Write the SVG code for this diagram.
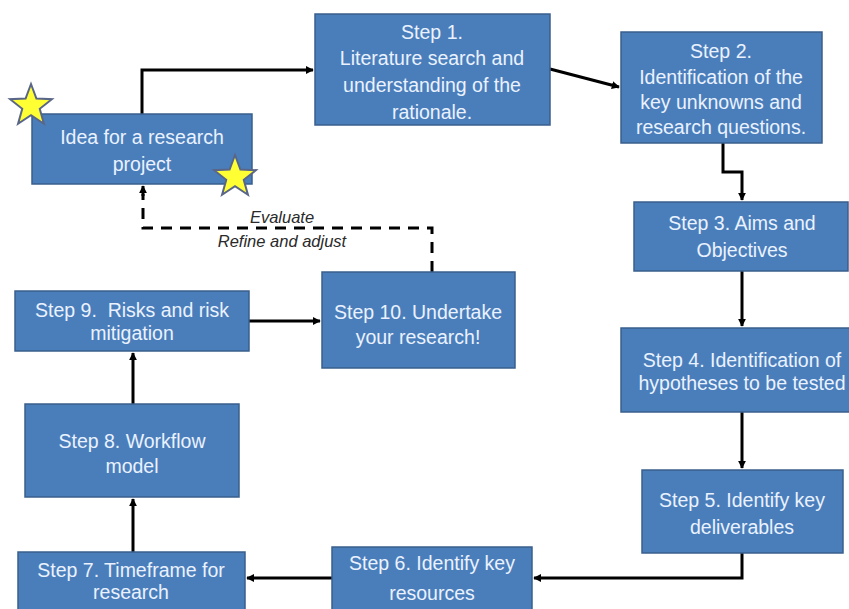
<svg xmlns="http://www.w3.org/2000/svg" width="849" height="609" viewBox="0 0 849 609">
<style>
.box{fill:#4a7ebb;stroke:#3a5f8c;stroke-width:1.5}
.t{font-family:"Liberation Sans",Arial,sans-serif;font-size:19.5px;fill:#eaf2ff;text-anchor:middle}
.lbl{font-family:"Liberation Sans",Arial,sans-serif;font-size:16.5px;font-style:italic;fill:#2a2a2a;text-anchor:middle}
.c{fill:none;stroke:#000;stroke-width:3}
.d{fill:none;stroke:#000;stroke-width:3;stroke-dasharray:11,8}
.star{fill:#ffff33;stroke:#5a6688;stroke-width:2}
</style>
<defs>
<marker id="ah" viewBox="0 0 10 10" refX="9" refY="5" markerWidth="8" markerHeight="8" markerUnits="userSpaceOnUse" orient="auto">
<path d="M0,0 L10,5 L0,10 z" fill="#000"/>
</marker>
<polygon id="starShape" points="0,-22 5.41,-7.44 20.92,-6.8 8.75,2.84 12.93,17.8 0,9.2 -12.93,17.8 -8.75,2.84 -20.92,-6.8 -5.41,-7.44"/>
</defs>
<rect width="849" height="609" fill="#fff"/>
<g id="connectors">
<path class="c" d="M142,114 V70 H313" marker-end="url(#ah)"/>
<path class="c" d="M550,69 L619,87" marker-end="url(#ah)"/>
<path class="c" d="M723,143 V172 H742 V200" marker-end="url(#ah)"/>
<path class="c" d="M742,271 V326" marker-end="url(#ah)"/>
<path class="c" d="M742,412 V468" marker-end="url(#ah)"/>
<path class="c" d="M742,553 V578 H534" marker-end="url(#ah)"/>
<path class="c" d="M332,578 H247" marker-end="url(#ah)"/>
<path class="c" d="M133,552 V499" marker-end="url(#ah)"/>
<path class="c" d="M133,404 V353" marker-end="url(#ah)"/>
<path class="c" d="M249,321 H320" marker-end="url(#ah)"/>
<path class="d" d="M432,272 V228 H143 V194"/>
<path class="c" d="M143,196 V186" marker-end="url(#ah)"/>
<text class="lbl" x="282" y="223">Evaluate</text>
<text class="lbl" x="282" y="247">Refine and adjust</text>
</g>
<g id="idea">
<rect class="box" x="32" y="114" width="220" height="70"/>
<text class="t" x="142" y="144">Idea for a research</text>
<text class="t" x="142" y="171">project</text>
</g>
<g id="star1"><use href="#starShape" class="star" x="31" y="106"/></g>
<g id="star2"><use href="#starShape" class="star" x="235" y="177"/></g>
<g id="step1">
<rect class="box" x="315" y="14" width="235" height="111"/>
<text class="t" x="432" y="39">Step 1.</text>
<text class="t" x="432" y="65">Literature search and</text>
<text class="t" x="432" y="92">understanding of the</text>
<text class="t" x="432" y="119">rationale.</text>
</g>
<g id="step2">
<rect class="box" x="621" y="32" width="201" height="111"/>
<text class="t" x="721" y="58">Step 2.</text>
<text class="t" x="721" y="84">Identification of the</text>
<text class="t" x="721" y="109">key unknowns and</text>
<text class="t" x="721" y="134">research questions.</text>
</g>
<g id="step3">
<rect class="box" x="634" y="202" width="214" height="69"/>
<text class="t" x="742" y="230">Step 3. Aims and</text>
<text class="t" x="742" y="257">Objectives</text>
</g>
<g id="step4">
<rect class="box" x="621" y="328" width="245" height="84"/>
<text class="t" x="742" y="367">Step 4. Identification of</text>
<text class="t" x="742" y="390">hypotheses to be tested</text>
</g>
<g id="step5">
<rect class="box" x="642" y="470" width="201" height="83"/>
<text class="t" x="742" y="507">Step 5. Identify key</text>
<text class="t" x="742" y="534">deliverables</text>
</g>
<g id="step6">
<rect class="box" x="332" y="547" width="200" height="70"/>
<text class="t" x="432" y="570">Step 6. Identify key</text>
<text class="t" x="432" y="600">resources</text>
</g>
<g id="step7">
<rect class="box" x="18" y="552" width="227" height="65"/>
<text class="t" x="131" y="577">Step 7. Timeframe for</text>
<text class="t" x="131" y="599">research</text>
</g>
<g id="step8">
<rect class="box" x="25" y="404" width="214" height="93"/>
<text class="t" x="132" y="448">Step 8. Workflow</text>
<text class="t" x="132" y="473">model</text>
</g>
<g id="step9">
<rect class="box" x="15" y="291" width="234" height="60"/>
<text class="t" x="132" y="317" style="white-space:pre">Step 9.  Risks and risk</text>
<text class="t" x="132" y="340">mitigation</text>
</g>
<g id="step10">
<rect class="box" x="322" y="272" width="193" height="96"/>
<text class="t" x="418" y="319">Step 10. Undertake</text>
<text class="t" x="418" y="344">your research!</text>
</g>
</svg>
